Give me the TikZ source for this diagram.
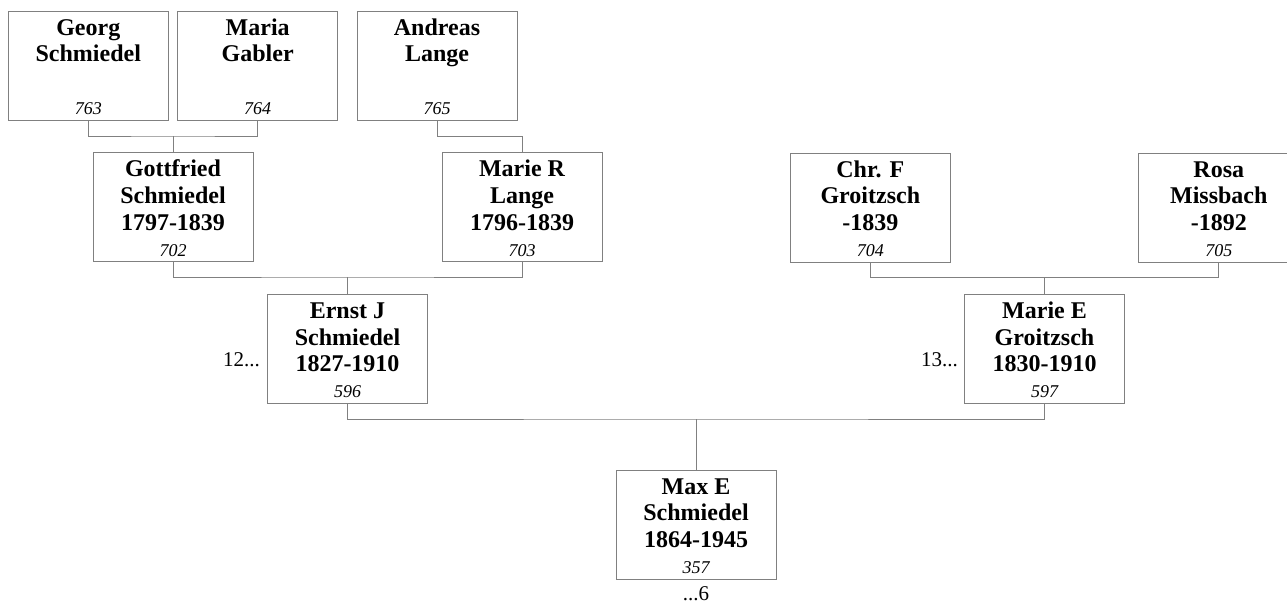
\documentclass[tikz,border=0pt]{standalone}
\usepackage{fontspec}
\setmainfont{Liberation Serif}
\definecolor{linegray}{RGB}{128,128,128}
\newcommand{\pcontent}[2]{\begin{minipage}[t][109pt][t]{160pt}\centering\fontsize{24}{26.7}\selectfont\bfseries\rule{0pt}{24pt}\ignorespaces #1\par\vfill{\fontsize{18}{18}\selectfont\mdseries\itshape #2\par}\vspace{5.5pt}\end{minipage}}
\tikzset{
  person/.style={draw=linegray, line width=1pt, rectangle, inner sep=0pt, outer sep=0pt, minimum width=160pt, minimum height=109pt},
  link/.style={draw=linegray, line width=1pt},
  side/.style={font=\fontsize{21}{21}\selectfont, inner sep=0pt}
}
\begin{document}
\begin{tikzpicture}[x=1pt,y=-1pt]
\useasboundingbox (0,0) rectangle (1287,603);
\node[person] (georg) at (88.3,65.5) {\pcontent{Georg\\Schmiedel}{763}};
\node[person] (maria) at (257.7,65.5) {\pcontent{Maria\\Gabler}{764}};
\node[person] (andreas) at (437,65.5) {\pcontent{Andreas\\Lange}{765}};
\node[person] (gottfried) at (173,207.2) {\pcontent{Gottfried\\Schmiedel\\1797-1839}{702}};
\node[person] (marier) at (522,207.2) {\pcontent{Marie R\\Lange\\1796-1839}{703}};
\node[person] (chrf) at (870.3,207.5) {\pcontent{Chr. F\\Groitzsch\\-1839}{704}};
\node[person] (rosa) at (1218.8,207.5) {\pcontent{Rosa\\Missbach\\-1892}{705}};
\node[person] (ernst) at (347.5,349) {\pcontent{Ernst J\\Schmiedel\\1827-1910}{596}};
\node[person] (mariee) at (1044.5,349) {\pcontent{Marie E\\Groitzsch\\1830-1910}{597}};
\node[person] (max) at (696,524.7) {\pcontent{Max E\\Schmiedel\\1864-1945}{357}};
\coordinate (j1) at (173,136);
\coordinate (j3) at (347.5,277);
\coordinate (j4) at (1044.5,277.3);
\coordinate (j5) at (696,419);
\draw[link] (georg.south) |- (j1) -| (maria.south);
\draw[link] (j1) -- (gottfried.north);
\draw[link] (andreas.south) -- ++(0,16) -| (marier.north);
\draw[link] (gottfried.south) |- (j3) -| (marier.south);
\draw[link] (j3) -- (ernst.north);
\draw[link] (chrf.south) |- (j4) -| (rosa.south);
\draw[link] (j4) -- (mariee.north);
\draw[link] (ernst.south) |- (j5) -| (mariee.south);
\draw[link] (j5) -- (max.north);
\node[side, anchor=base east] (l12) at (260,366.7) {12...};
\node[side, anchor=base east] (l13) at (958,366.7) {13...};
\node[side, anchor=base] (l6) at (696,600) {...6};
\end{tikzpicture}
\end{document}
